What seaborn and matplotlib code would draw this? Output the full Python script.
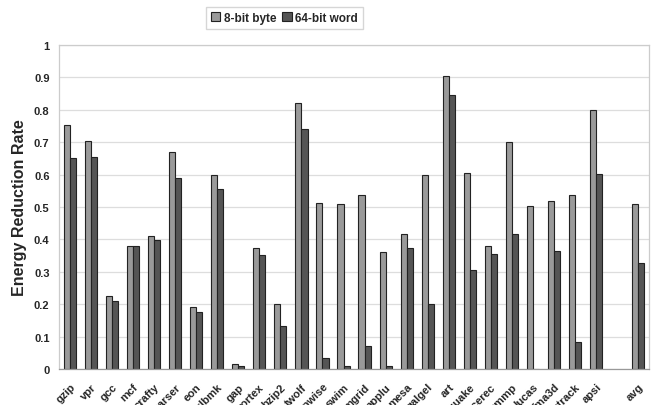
import pandas as pd
import numpy as np
import matplotlib
matplotlib.use("Agg")
import matplotlib.pyplot as plt
import seaborn as sns
from matplotlib.ticker import FuncFormatter, FixedLocator

benchmarks = ['gzip', 'vpr', 'gcc', 'mcf', 'crafty', 'parser', 'eon', 'perlbmk',
              'gap', 'vortex', 'bzip2', 'twolf', 'wupwise', 'swim', 'mgrid',
              'applu', 'mesa', 'galgel', 'art', 'equake', 'facerec', 'ammp',
              'lucas', 'fma3d', 'sixtrack', 'apsi', ' ', 'avg']

byte_8 = [0.753, 0.704, 0.224, 0.379, 0.411, 0.670, 0.192, 0.599,
          0.015, 0.372, 0.200, 0.822, 0.511, 0.508, 0.537,
          0.361, 0.417, 0.599, 0.905, 0.606, 0.380, 0.702,
          0.503, 0.520, 0.538, 0.800, np.nan, 0.509]

word_64 = [0.650, 0.653, 0.209, 0.379, 0.399, 0.590, 0.176, 0.554,
           0.009, 0.353, 0.134, 0.741, 0.033, 0.010, 0.070,
           0.010, 0.372, 0.200, 0.846, 0.305, 0.355, 0.417,
           0.0, 0.363, 0.082, 0.602, np.nan, 0.327]

series = ['8-bit byte', '64-bit word']

df = pd.DataFrame({'bench': benchmarks, series[0]: byte_8, series[1]: word_64})
long_df = df.melt(id_vars='bench', var_name='type', value_name='rate')

sns.set_style('white')
plt.rcParams['font.family'] = ['Liberation Sans', 'DejaVu Sans']

fig = plt.figure(figsize=(6.52, 4.06), dpi=100)
ax = fig.add_axes([0.091, 0.0887, 0.904, 0.798])

sns.barplot(data=long_df, x='bench', y='rate', hue='type', order=benchmarks,
            hue_order=series, palette=['#9a9a9a', '#555555'], width=0.58,
            edgecolor='#222222', linewidth=0.8, ax=ax)

ax.set_ylim(0, 1)
ax.set_xlim(-0.5, len(benchmarks) - 0.5)
ax.set_yticks(np.arange(0, 1.01, 0.1))
ax.yaxis.set_major_formatter(FuncFormatter(lambda v, p: '%g' % round(v, 1)))
ax.yaxis.grid(True, color='#dddddd', linewidth=0.9)
ax.set_axisbelow(True)

for s in ax.spines.values():
    s.set_color('#cccccc')
    s.set_linewidth(0.9)
ax.spines['bottom'].set_color('#999999')

ax.set_xlabel('')
ax.set_ylabel('Energy Reduction Rate', fontsize=11.5, fontweight='bold', labelpad=5)
ax.tick_params(axis='y', length=0, labelsize=8, pad=7)
for t in ax.get_yticklabels():
    t.set_fontweight('bold')

ax.set_xticks(range(len(benchmarks)))
ax.set_xticklabels(benchmarks, rotation=45, ha='right', rotation_mode='anchor',
                   fontsize=8, fontweight='bold')
ax.tick_params(axis='x', length=0, pad=9)
ax.xaxis.set_minor_locator(FixedLocator(np.arange(0.5, len(benchmarks) - 1, 1)))
ax.tick_params(axis='x', which='minor', direction='in', length=3, color='#bbbbbb')

handles, labels = ax.get_legend_handles_labels()
ax.legend_.remove()
fig.legend(handles, labels, loc='center', bbox_to_anchor=(0.436, 0.953), ncol=2,
           frameon=True, edgecolor='#cccccc', fancybox=False,
           prop={'weight': 'bold', 'size': 8.5}, handlelength=0.8,
           handleheight=0.8, handletextpad=0.3, columnspacing=0.5,
           borderpad=0.4)

fig.savefig('out.png', dpi=100)
